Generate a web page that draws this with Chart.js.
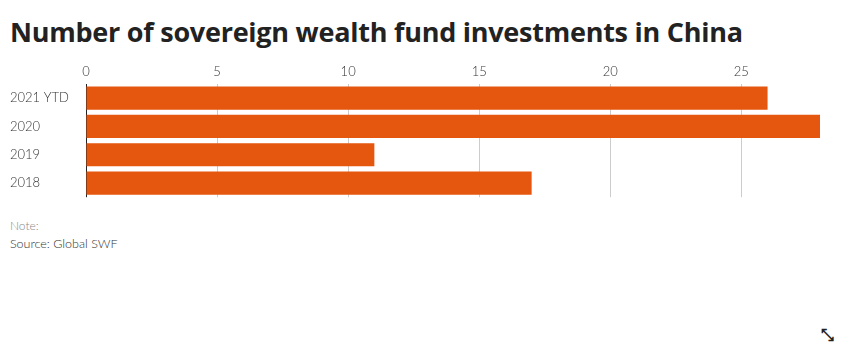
<!DOCTYPE html>
<html>
<head>
<meta charset="utf-8">
<script src="https://cdn.jsdelivr.net/npm/chart.js@4"></script>
<style>
  body { margin: 0; background: #fff; font-family: Lato, "Open Sans", sans-serif; }
  .title { position: absolute; left: 10px; top: 13px; font-family: "Open Sans", sans-serif; font-weight: 700; font-size: 27px; color: #222; letter-spacing: -0.25px; white-space: nowrap; }
  .chart-wrap { position: absolute; left: 0; top: 60px; width: 842px; height: 145px; }
  .note { position: absolute; left: 10px; top: 218px; font-size: 12px; font-weight: 300; color: #888; }
  .source { position: absolute; left: 10px; top: 236px; font-size: 12.5px; font-weight: 300; color: #333; }
  .expand { position: absolute; left: 821px; top: 325px; font-size: 16px; font-weight: bold; color: #222; font-family: "DejaVu Sans"; }
</style>
</head>
<body>
<div class="title">Number of sovereign wealth fund investments in China</div>
<div class="chart-wrap"><canvas id="chart"></canvas></div>
<div class="note">Note:</div>
<div class="source">Source: Global SWF</div>
<div class="expand">&#x2921;</div>
<script>
const categories = ['2021 YTD', '2020', '2019', '2018'];
const investments = [26, 28, 11, 17];
const xTicks = [0, 5, 10, 15, 20, 25];

new Chart(document.getElementById('chart'), {
  type: 'bar',
  data: {
    labels: categories,
    datasets: [{
      data: investments,
      backgroundColor: '#e5560f',
      categoryPercentage: 1,
      barPercentage: 0.82,
    }]
  },
  options: {
    indexAxis: 'y',
    responsive: true,
    maintainAspectRatio: false,
    animation: false,
    layout: { padding: { left: 10, right: 22, top: 0, bottom: 4 } },
    plugins: { legend: { display: false }, tooltip: { enabled: false } },
    scales: {
      x: {
        position: 'top',
        min: 0,
        max: 28,
        afterBuildTicks: (axis) => { axis.ticks = xTicks.map(v => ({ value: v })); },
        afterFit: (axis) => { axis.height = 24; },
        border: { display: false },
        grid: {
          drawTicks: false,
          color: (ctx) => ctx.tick && ctx.tick.value === 0 ? '#222' : '#ccc',
        },
        ticks: { color: '#333', padding: 4, font: { family: 'Lato', size: 13, weight: 300 } },
      },
      y: {
        afterFit: (axis) => { axis.width = 76; },
        border: { display: false },
        grid: { display: false },
        ticks: { color: '#333', crossAlign: 'far', padding: 0, font: { family: 'Lato', size: 13, weight: 300 } },
      }
    }
  }
});
</script>
</body>
</html>
